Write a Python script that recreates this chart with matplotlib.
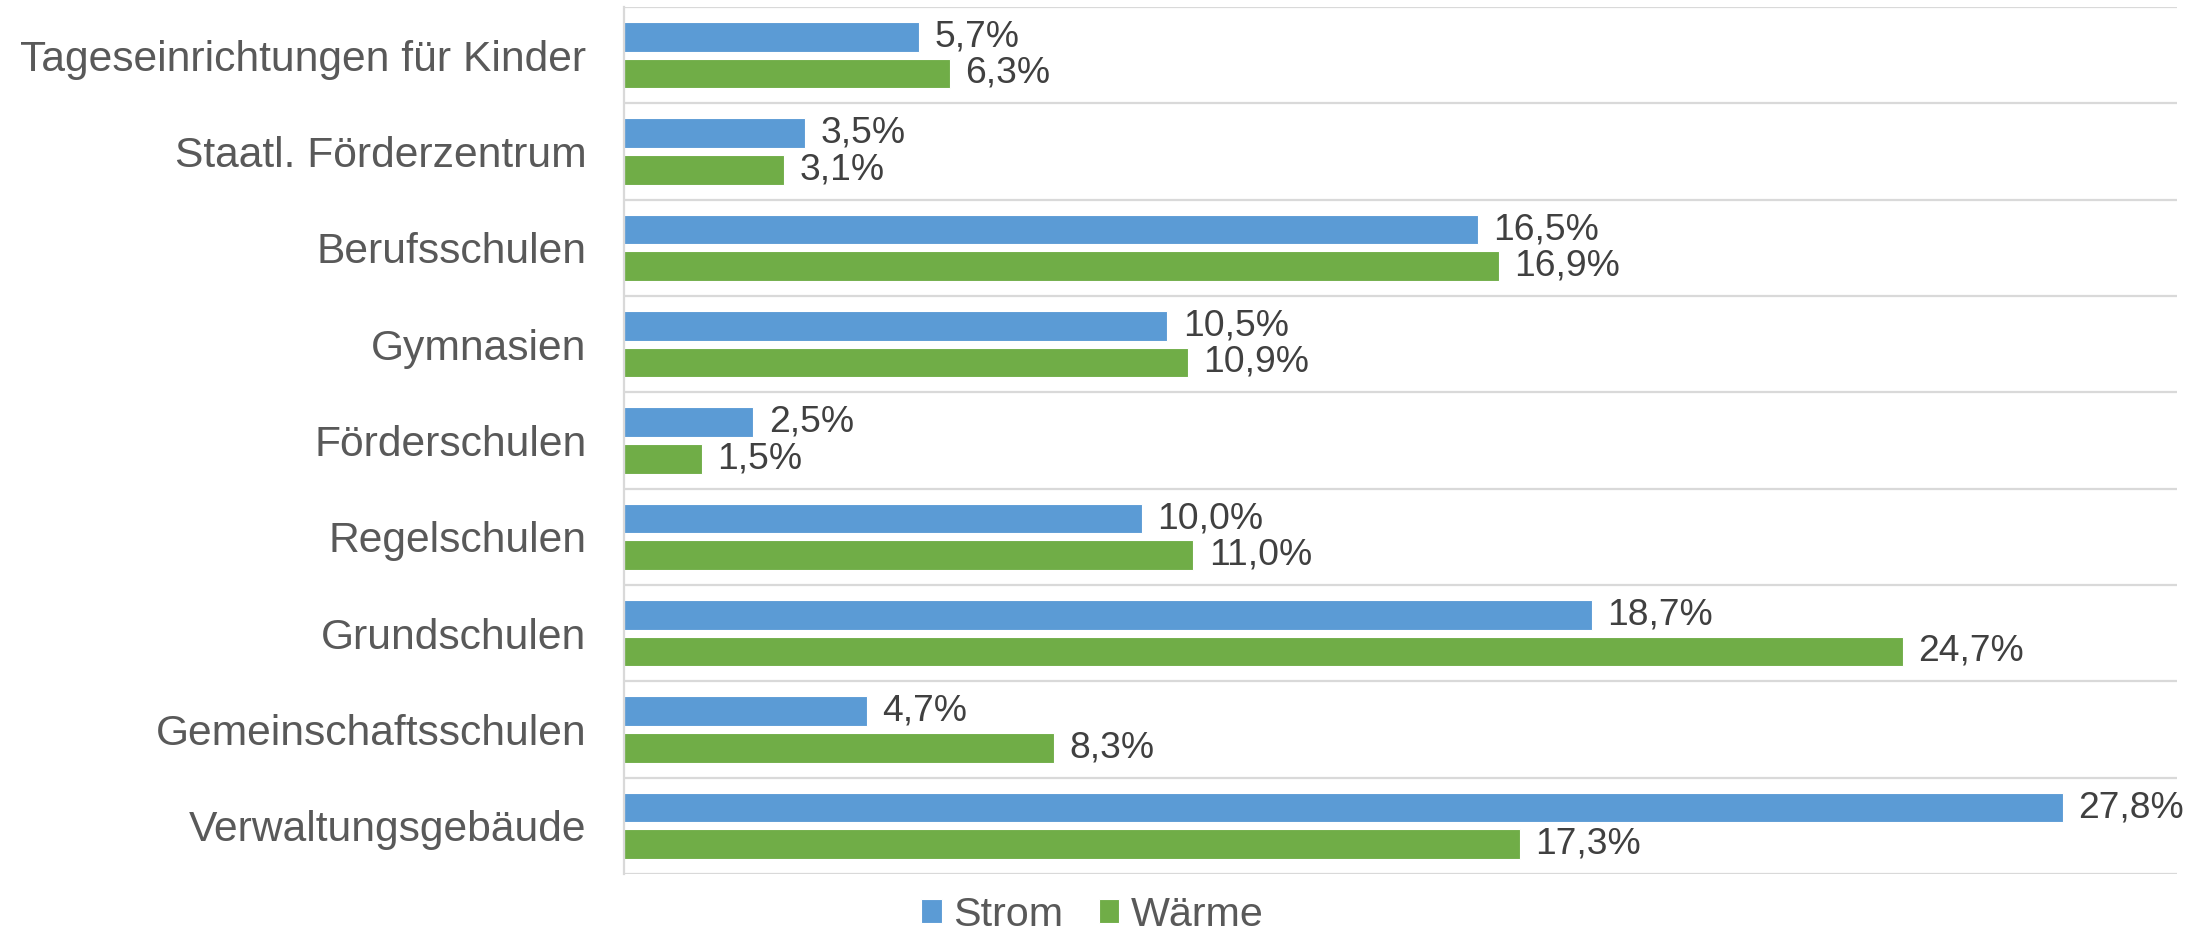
import matplotlib.pyplot as plt
import numpy as np

plt.rcParams["font.family"] = ["Liberation Sans", "DejaVu Sans"]

categories = [
    "Tageseinrichtungen für Kinder",
    "Staatl. Förderzentrum",
    "Berufsschulen",
    "Gymnasien",
    "Förderschulen",
    "Regelschulen",
    "Grundschulen",
    "Gemeinschaftsschulen",
    "Verwaltungsgebäude",
]
strom = [5.7, 3.5, 16.5, 10.5, 2.5, 10.0, 18.7, 4.7, 27.8]
waerme = [6.3, 3.1, 16.9, 10.9, 1.5, 11.0, 24.7, 8.3, 17.3]

blue = "#5B9BD5"
green = "#70AD47"
grid_col = "#D9D9D9"


def fmt(v):
    return f"{v:.1f}%".replace(".", ",")


fig = plt.figure(figsize=(22.11, 9.33), dpi=100)
ax = fig.add_axes([0.2822, 0.0632, 0.9846 - 0.2822, 0.9925 - 0.0632])

y = np.arange(len(categories))
h = 0.31
off = 0.19

b1 = ax.barh(y - off, strom, height=h, color=blue, edgecolor="white", linewidth=0.8, label="Strom")
b2 = ax.barh(y + off, waerme, height=h, color=green, edgecolor="white", linewidth=0.8, label="Wärme")

ax.bar_label(b1, labels=[fmt(v) for v in strom], padding=11, fontsize=26.8, color="#404040")
ax.bar_label(b2, labels=[fmt(v) for v in waerme], padding=11, fontsize=26.8, color="#404040")

# category boundaries as gridlines
for yb in np.arange(-0.5, len(categories), 1.0):
    ax.axhline(yb, color=grid_col, linewidth=1.6, zorder=0)

ax.set_xlim(0, 30)
ax.set_ylim(len(categories) - 0.5, -0.5)
ax.set_yticks(y)
ax.set_yticklabels(categories, fontsize=30.7, color="#595959")
ax.set_xticks([])
ax.tick_params(axis="y", length=0, pad=27)

for side in ["top", "right", "bottom"]:
    ax.spines[side].set_visible(False)
ax.spines["left"].set_color(grid_col)
ax.spines["left"].set_linewidth(1.6)

leg = fig.legend(
    handles=[b1, b2],
    labels=["Strom", "Wärme"],
    loc="center",
    bbox_to_anchor=(0.494, 0.0195),
    ncol=2,
    frameon=False,
    fontsize=29.7,
    handlelength=0.5,
    handleheight=0.5,
    handletextpad=0.27,
    columnspacing=0.87,
    borderpad=0,
)
for t in leg.get_texts():
    t.set_color("#595959")

fig.savefig("out.png", dpi=100)
